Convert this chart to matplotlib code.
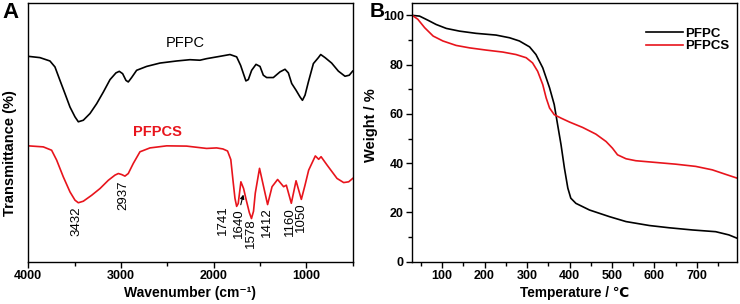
import matplotlib
matplotlib.use('Agg')
import matplotlib.pyplot as plt
import numpy as np

plt.rcParams['font.family'] = ['Liberation Sans', 'DejaVu Sans', 'Noto Sans CJK SC']

# ---- panel A: FTIR ----
wn_pfpc = [4000, 3874, 3766, 3712, 3658, 3604, 3550, 3496, 3460, 3406, 3334, 3262, 3190, 3118,
           3054, 3018, 2982, 2946, 2921, 2885, 2831, 2723, 2579, 2400, 2256, 2148, 2076, 1932,
           1824, 1752, 1709, 1673, 1652, 1626, 1590, 1543, 1500, 1464, 1428, 1356, 1284, 1230,
           1194, 1158, 1111, 1068, 1042, 1014, 978, 924, 870, 845, 798, 727, 655, 583, 537, 500]
t_pfpc = [79.4, 78.9, 77.6, 75.3, 70.1, 65.0, 59.8, 56.0, 54.1, 54.7, 57.3, 61.1, 65.6, 70.4,
          73.0, 73.6, 72.7, 70.1, 69.5, 71.2, 74.0, 75.5, 76.8, 77.6, 78.1, 77.9, 78.5, 79.4,
          80.1, 79.2, 75.9, 72.1, 69.9, 70.4, 74.0, 76.3, 75.5, 72.1, 71.2, 71.2, 73.4, 74.4,
          73.0, 68.9, 66.3, 63.7, 62.4, 64.4, 69.5, 76.6, 78.9, 80.1, 78.9, 76.8, 73.7, 71.7, 72.1, 73.7]

wn_pfpcs = [4000, 3838, 3748, 3694, 3622, 3550, 3496, 3460, 3406, 3316, 3226, 3136, 3064, 3028,
            2992, 2957, 2921, 2867, 2795, 2687, 2507, 2292, 2148, 2076, 1968, 1900, 1850, 1815,
            1790, 1770, 1752, 1735, 1706, 1677, 1648, 1615, 1592, 1570, 1551, 1505, 1461, 1418,
            1370, 1310, 1245, 1216, 1162, 1111, 1054, 1015, 975, 903, 867, 841, 777, 669, 597, 543, 500]
t_pfpcs = [44.8, 44.4, 43.1, 39.3, 32.8, 27.0, 23.8, 22.8, 23.4, 25.7, 28.3, 31.5, 33.5, 34.1,
           33.7, 33.1, 34.1, 38.0, 42.5, 44.0, 44.8, 44.7, 44.1, 43.8, 44.0, 43.6, 42.8, 39.5,
           31.0, 24.5, 21.4, 22.5, 30.9, 28.3, 23.8, 19.0, 16.7, 19.5, 26.5, 36.1, 29.0, 22.1,
           29.0, 31.8, 29.0, 29.6, 22.6, 31.3, 24.1, 29.5, 35.4, 40.9, 39.6, 40.6, 37.4, 32.2, 30.6, 30.9, 32.2]

peak_labels = ['3432', '2937', '1741', '1640', '1578', '1412', '1160', '1050']
peak_text_x = [3475, 2977, 1900, 1728, 1598, 1425, 1177, 1061]
peak_text_y = [21.5, 31.5, 21.9, 20.7, 16.9, 21.1, 21.1, 23.0]

# ---- panel B: TGA ----
temp_pfpc = [30, 47, 67, 86, 110, 141, 180, 227, 259, 282, 306, 321, 337, 353, 364, 372, 380,
             388, 396, 403, 415, 447, 494, 533, 588, 634, 689, 744, 775, 795]
w_pfpc = [100, 99.7, 98, 96.3, 94.7, 93.6, 92.7, 92, 90.9, 89.6, 87.2, 84.1, 78.7, 70.6, 63.8,
          55.6, 47.5, 38, 29.9, 25.8, 23.7, 21, 18.3, 16.3, 14.7, 13.8, 12.9, 12.2, 10.9, 9.5]
temp_pfpcs = [30, 43, 59, 79, 102, 133, 165, 204, 243, 274, 298, 313, 325, 337, 345, 353, 364,
              380, 400, 431, 462, 486, 501, 513, 533, 556, 603, 650, 697, 736, 767, 795]
w_pfpcs = [100, 98.4, 95, 91.6, 89.6, 87.8, 86.8, 85.9, 85.1, 84.1, 82.8, 80.7, 77.3, 71.9, 66.5,
           62.4, 59.7, 58.3, 56.7, 54.5, 51.8, 48.8, 46.1, 43.4, 41.8, 41, 40.3, 39.6, 38.7, 37.3, 35.5, 33.9]

fig = plt.figure(figsize=(7.4, 3.04), dpi=100)
axA = fig.add_axes([0.0382, 0.139, 0.4384, 0.851])
axB = fig.add_axes([0.5572, 0.139, 0.4392, 0.851])

axA.plot(wn_pfpc, t_pfpc, color='black', lw=1.2)
axA.plot(wn_pfpcs, t_pfpcs, color='#e8141c', lw=1.2)
axA.set_xlim(4000, 500)
axA.set_ylim(0, 100)
axA.set_xticks([4000, 3000, 2000, 1000])
axA.set_xticks([3500, 2500, 1500, 500], minor=True)
axA.set_yticks([])
axA.tick_params(axis='x', which='major', direction='out', length=4, width=1, pad=2, labelsize=9)
axA.tick_params(axis='x', which='minor', direction='out', length=3, width=1)
for lab in axA.get_xticklabels():
    lab.set_fontweight('bold')
axA.set_xlabel('Wavenumber (cm\u207b\u00b9)', fontsize=10, fontweight='bold', labelpad=3)
axA.set_ylabel('Transmittance (%)', fontsize=10.5, fontweight='bold')
axA.yaxis.set_label_coords(-0.034, 0.42)
axA.text(2309, 84.4, 'PFPC', fontsize=10.5, ha='center', va='center', color='black')
axA.text(2606, 50.1, 'PFPCS', fontsize=10.5, fontweight='bold', ha='center', va='center', color='#e8141c')
for lbl, x, y in zip(peak_labels, peak_text_x, peak_text_y):
    axA.text(x, y, lbl, rotation=90, ha='center', va='top', fontsize=9.5)
axA.annotate('', xy=(1672, 27.0), xytext=(1715, 21.0),
             arrowprops=dict(arrowstyle='-|>', color='black', lw=0.8, mutation_scale=6))

axB.plot(temp_pfpc, w_pfpc, color='black', lw=1.2, label='PFPC')
axB.plot(temp_pfpcs, w_pfpcs, color='#e8141c', lw=1.2, label='PFPCS')
axB.set_xlim(30, 795)
axB.set_ylim(0, 105)
axB.set_xticks(np.arange(100, 800, 100))
axB.set_xticks(np.arange(50, 800, 100), minor=True)
axB.set_yticks(np.arange(0, 101, 20))
axB.set_yticks(np.arange(10, 101, 20), minor=True)
axB.tick_params(which='major', direction='out', length=4, width=1, pad=2, labelsize=9)
axB.tick_params(which='minor', direction='out', length=3, width=1)
for lab in axB.get_xticklabels() + axB.get_yticklabels():
    lab.set_fontweight('bold')
axB.set_xlabel('Temperature / \u2103', fontsize=9.8, fontweight='bold', labelpad=3)
axB.set_ylabel('Weight / %', fontsize=10.5, fontweight='bold')
axB.yaxis.set_label_coords(-0.105, 0.53)
axB.legend(loc='upper right', bbox_to_anchor=(0.99, 0.925), frameon=False,
           prop={'weight': 'bold', 'size': 9.5}, labelspacing=0.0, handlelength=2.8,
           handletextpad=0.15, borderaxespad=0)

for ax in (axA, axB):
    for s in ax.spines.values():
        s.set_linewidth(1)

fig.text(0.003, 0.995, 'A', fontsize=16, fontweight='bold', ha='left', va='top')
fig.text(0.499, 0.995, 'B', fontsize=15, fontweight='bold', ha='left', va='top')

fig.savefig('out.png', dpi=100)
